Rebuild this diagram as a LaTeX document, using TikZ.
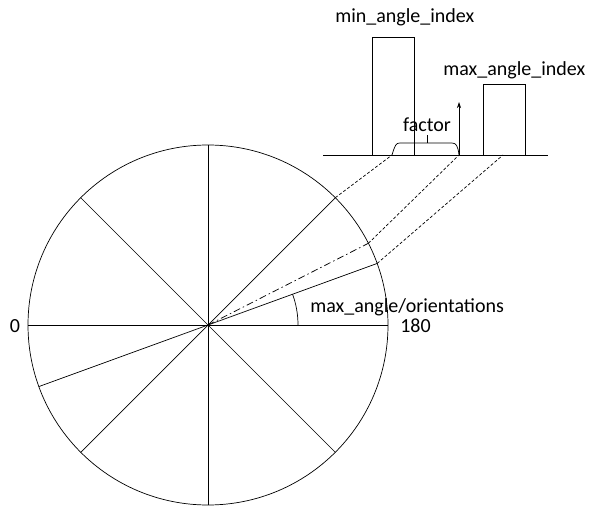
\documentclass[tikz,border=0pt]{standalone}
\usepackage{fontspec}
\setmainfont{Carlito}
\usetikzlibrary{arrows.meta}
\begin{document}
\begin{tikzpicture}[x=1pt,y=-1pt, line width=0.7pt,
  lbl/.style={font=\fontsize{20}{24}\selectfont, inner sep=0pt},
  dsh/.style={dash pattern=on 3pt off 2pt},
  dshdot/.style={dash pattern=on 7pt off 3pt on 1.5pt off 3pt}]
\useasboundingbox (0,0) rectangle (593,518);
\coordinate (O) at (208,325);
% wheel
\draw (O) circle[radius=180];
\foreach \a in {0,45,90,135}
  \draw ([shift={(\a:180)}]O) -- ([shift={(\a+180:180)}]O);
\coordinate (A45) at ([shift={(-45:180)}]O);
\coordinate (A27) at ([shift={(-27:180)}]O);
\coordinate (A20) at ([shift={(-20:180)}]O);
\coordinate (B20) at ([shift={(160:180)}]O);
\draw (A20) -- (B20);
\draw[dshdot] (O) -- (A27);
\draw ([shift={(0:90)}]O) arc[start angle=0, end angle=-20, radius=90];
% histogram
\coordinate (L) at (323,155);
\coordinate (Rr) at (548,155);
\draw (L) -- (Rr);
\coordinate (F1) at (392,155);
\coordinate (F2) at (459,155);
\coordinate (F3) at (503,155);
\coordinate (AT) at (459,102);
\draw (372,155) |- (414,37) -- (414,155);
\draw (483,155) |- (525,84) -- (525,155);
\draw[-{Stealth[length=6pt,width=4pt]}] (F2) -- (AT);
\draw (F1) .. controls (395,145) and (396,143) .. (400,143) -- (452,143)
      .. controls (456,143) and (458,146) .. (F2);
\coordinate (T1) at (427,143);
\coordinate (T2) at (427,135);
\draw (T1) -- (T2);
% projections
\draw[dsh] (A45) -- (F1);
\draw[dsh] (A27) -- (F2);
\draw[dsh] (A20) -- (F3);
% labels
\node[lbl,anchor=base west] (minl) at (335,23) {min\_angle\_index};
\node[lbl,anchor=base west] (maxl) at (443,76) {max\_angle\_index};
\node[lbl,anchor=base] (fac) at (427,132) {factor};
\node[lbl,anchor=base west] (ang) at (310,312) {max\_angle/orientations};
\node[lbl,anchor=base west] (l180) at (400,332) {180};
\node[lbl,anchor=base] (l0) at (15,332) {0};
\end{tikzpicture}
\end{document}
